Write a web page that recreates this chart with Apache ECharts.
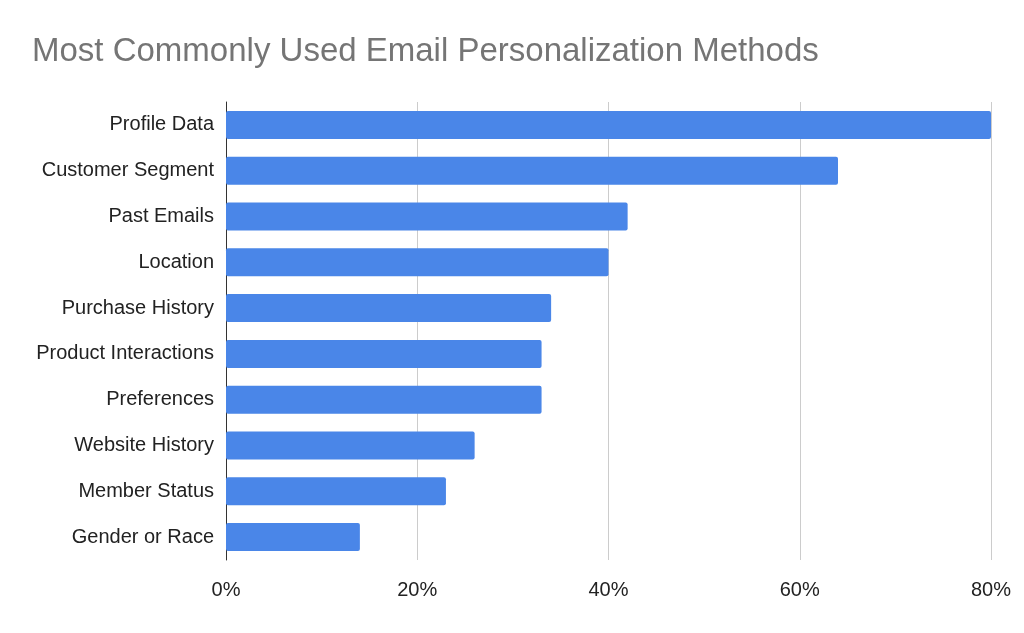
<!DOCTYPE html>
<html>
<head>
<meta charset="utf-8">
<script src="https://cdn.jsdelivr.net/npm/echarts@6/dist/echarts.min.js"></script>
<style>
  html, body { margin: 0; padding: 0; background: #fff; }
  #chart { width: 1024px; height: 633px; }
</style>
</head>
<body>
<div id="chart"></div>
<script>
// categories top to bottom
var categories = ['Profile Data', 'Customer Segment', 'Past Emails', 'Location', 'Purchase History',
  'Product Interactions', 'Preferences', 'Website History', 'Member Status', 'Gender or Race'];
var values = [80, 64, 42, 40, 34, 33, 33, 26, 23, 14];
var xTicks = [0, 20, 40, 60, 80];

var font = '"Liberation Sans", Arial, sans-serif';

var chart = echarts.init(document.getElementById('chart'));
chart.setOption({
  animation: false,
  title: {
    text: 'Most Commonly Used Email Personalization Methods',
    left: 27,
    top: 30,
    textStyle: { fontFamily: font, fontSize: 33, fontWeight: 'normal', color: '#757575' }
  },
  grid: {
    left: 226,
    right: 33,
    top: 102,
    bottom: 73
  },
  xAxis: {
    type: 'value',
    min: xTicks[0],
    max: xTicks[xTicks.length - 1],
    interval: 20,
    axisLine: { show: false },
    axisTick: { show: false },
    splitLine: { lineStyle: { color: '#cccccc', width: 1 } },
    axisLabel: {
      margin: 20,
      fontFamily: font,
      fontSize: 20,
      color: '#222',
      formatter: '{value}%'
    }
  },
  yAxis: {
    type: 'category',
    inverse: true,
    data: categories,
    axisLine: { lineStyle: { color: '#333', width: 1 } },
    axisTick: { show: false },
    axisLabel: {
      margin: 12,
      fontFamily: font,
      fontSize: 20,
      color: '#222'
    }
  },
  series: [{
    type: 'bar',
    data: values,
    barWidth: 28,
    itemStyle: { color: '#4a86e8', borderRadius: 2 }
  }]
});
</script>
</body>
</html>
